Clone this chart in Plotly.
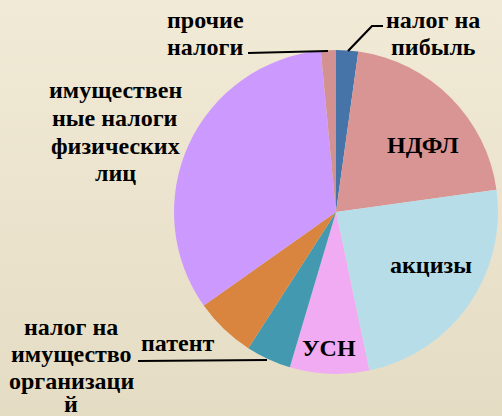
import plotly.graph_objects as go
import urllib.parse

categories = ["налог на пибыль", "НДФЛ", "акцизы", "УСН", "патент",
              "налог на имущество организаций",
              "имущественные налоги физических лиц", "прочие налоги"]
values = [2.2, 20.6, 23.9, 7.9, 4.5, 6.1, 33.3, 1.5]
colors = ["#4674A8", "#D99594", "#B7DEE8", "#F0ABF2", "#4399B0",
          "#D98540", "#CC99FF", "#D39291"]

# label text split into display lines (as in the reference)
label_lines = {
    "налог на пибыль": ["налог на", "пибыль"],
    "НДФЛ": ["НДФЛ"],
    "акцизы": ["акцизы"],
    "УСН": ["УСН"],
    "патент": ["патент"],
    "налог на имущество организаций": ["налог на", "имущество", "организаци", "й"],
    "имущественные налоги физических лиц": ["имуществен", "ные налоги", "физических", "лиц"],
    "прочие налоги": ["прочие", "налоги"],
}

W, H = 502, 416

svg = ('<svg xmlns="http://www.w3.org/2000/svg" width="502" height="416">'
       '<defs><linearGradient id="g" x1="0" y1="0" x2="0" y2="1">'
       '<stop offset="0" stop-color="#F1EAD6"/>'
       '<stop offset="1" stop-color="#E5DCC4"/>'
       '</linearGradient></defs>'
       '<rect width="502" height="416" fill="url(#g)"/></svg>')
bg_src = "data:image/svg+xml;charset=utf-8," + urllib.parse.quote(svg)

fig = go.Figure(go.Pie(
    labels=categories, values=values, sort=False, direction="clockwise",
    rotation=0, marker=dict(colors=colors, line=dict(width=0)),
    textinfo="none", hoverinfo="label+percent", showlegend=False,
    domain=dict(x=[174 / W, 498 / W], y=[42 / H, 366 / H]),
))

FAMILY = "Liberation Serif, Times New Roman, serif"

def px(x):
    return x / W

def py(y):
    return 1 - y / H

# label anchor (x, y of each line) in pixels
placement = {
    "налог на пибыль": (433, [20, 47]),
    "прочие налоги": (205, [20, 47]),
    "НДФЛ": (423, [145]),
    "акцизы": (431, [265]),
    "УСН": (329, [348]),
    "патент": (177, [343]),
    "имущественные налоги физических лиц": (115, [90, 118, 146, 173]),
    "налог на имущество организаций": (71, [327, 354, 381, 404]),
}

annotations = []
for cat in categories:
    x, ys = placement[cat]
    for txt, y in zip(label_lines[cat], ys):
        annotations.append(dict(text="<b>" + txt + "</b>", x=px(x), y=py(y),
                                xref="paper", yref="paper", showarrow=False,
                                xanchor="center", yanchor="middle",
                                font=dict(family=FAMILY, size=24, color="#000000")))

line = dict(color="#000000", width=2.2)
shapes = [
    dict(type="path", xref="paper", yref="paper",
         path=f"M {px(348)} {py(51)} L {px(372)} {py(26)} L {px(383)} {py(26)}",
         line=line),
    dict(type="line", xref="paper", yref="paper", x0=px(248), y0=py(53),
         x1=px(328), y1=py(51), line=line),
    dict(type="line", xref="paper", yref="paper", x0=px(138), y0=py(361),
         x1=px(267), y1=py(360), line=line),
]

fig.update_layout(
    width=W, height=H, margin=dict(l=0, r=0, t=0, b=0),
    paper_bgcolor="#EEE7D2", plot_bgcolor="rgba(0,0,0,0)",
    annotations=annotations, shapes=shapes,
    images=[dict(source=bg_src, xref="paper", yref="paper", x=0, y=1,
                 sizex=1, sizey=1, sizing="stretch", layer="below",
                 xanchor="left", yanchor="top")],
)

fig.write_html("out.html", config={"displayModeBar": False},
               post_script="document.body.style.margin='0';document.body.style.padding='0';")
